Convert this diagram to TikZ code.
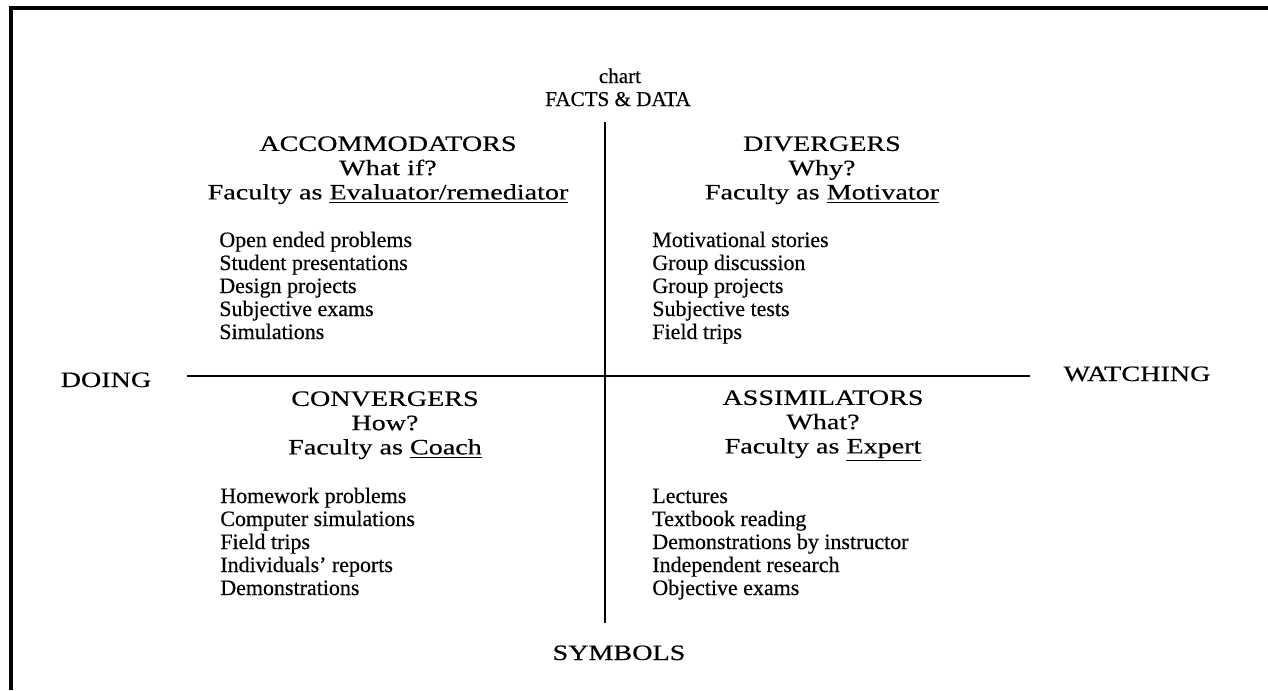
\documentclass[tikz,border=0pt]{standalone}
\usepackage{fontspec}
\setmainfont{Liberation Serif}[FakeBold=0.4]
\newfontfamily\widefont{Liberation Serif}[FakeStretch=1.28, FakeBold=0.4]
\usetikzlibrary{positioning}

\begin{document}
\begin{tikzpicture}[
    x=0.02cm, y=-0.02cm,
    every node/.style={inner sep=0pt},
    frameline/.style={line width=1.8pt},
    axisline/.style={line width=1.1pt},
    head/.style={font=\widefont\fontsize{12.5}{13.8}\selectfont, align=center, anchor=north},
    pole/.style={font=\widefont\fontsize{12.5}{15}\selectfont, anchor=base},
    title/.style={font=\fontsize{12}{14}\selectfont, anchor=base},
    item/.style={font=\fontsize{12.5}{15}\selectfont, anchor=base west}
]
\useasboundingbox (0,0) rectangle (1268,690);

% Frame (cut off at right and bottom)
\coordinate (fbl) at (11,690);
\coordinate (ftl) at (11,8);
\coordinate (ftr) at (1268,8);
\draw[frameline] (fbl) -- (ftl) -- (ftr);

% Title
\node[title] (chart) at (620,83) {chart};
\node[title] (facts) at (618,106) {FACTS \& DATA};

% Axes
\coordinate (vtop) at (605,122);
\coordinate (vbot) at (605,623);
\coordinate (hleft) at (187,376);
\coordinate (hright) at (1030,376);
\draw[axisline] (vtop) -- (vbot);
\draw[axisline] (hleft) -- (hright);

% Poles
\node[pole] (doing) at (106,387) {DOING};
\node[pole] (watching) at (1137,381) {WATCHING};
\node[pole] (symbols) at (619,660) {SYMBOLS};

% Quadrant headings
\node[head] (acc) at (388,136) {ACCOMMODATORS\\What if?\\Faculty as \underline{Evaluator/remediator}};
\node[head] (div) at (822,136) {DIVERGERS\\Why?\\Faculty as \underline{Motivator}};
\node[head] (conv) at (385,391) {CONVERGERS\\How?\\Faculty as \underline{Coach}};
\node[head] (assim) at (823,390) {ASSIMILATORS\\What?\\Faculty as \underline{Expert}};

% Activity lists
\foreach \txt [count=\i from 0] in {Open ended problems, Student presentations, Design projects, Subjective exams, Simulations}
  \node[item] (acclist\i) at (219,247+23*\i) {\txt};
\foreach \txt [count=\i from 0] in {Motivational stories, Group discussion, Group projects, Subjective tests, Field trips}
  \node[item] (divlist\i) at (652,247+23*\i) {\txt};
\foreach \txt [count=\i from 0] in {Homework problems, Computer simulations, Field trips, Individuals' reports, Demonstrations}
  \node[item] (convlist\i) at (220,503+23*\i) {\txt};
\foreach \txt [count=\i from 0] in {Lectures, Textbook reading, Demonstrations by instructor, Independent research, Objective exams}
  \node[item] (assimlist\i) at (652,503+23*\i) {\txt};

\end{tikzpicture}
\end{document}
